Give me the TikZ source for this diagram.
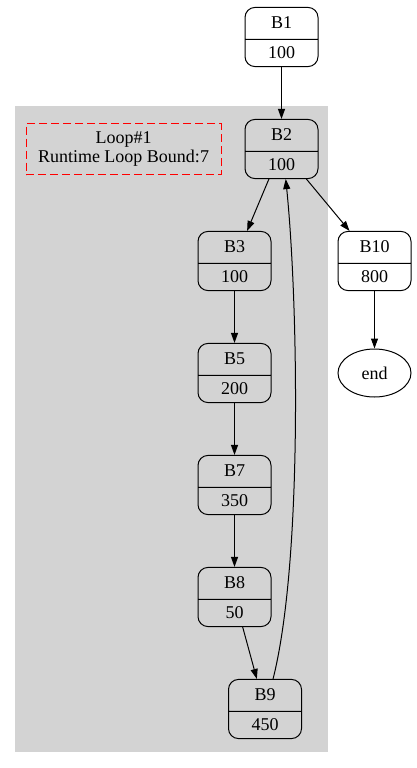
\documentclass[tikz,border=0pt]{standalone}
\usepackage{fontspec}
\setmainfont{Liberation Serif}
\usetikzlibrary{shapes.multipart,shapes.geometric,arrows.meta}
\definecolor{clustergray}{RGB}{211,211,211}
\begin{document}
\begin{tikzpicture}[x=1pt,y=-1pt,line width=1pt,
    every node/.style={font=\fontsize{18}{19.5}\selectfont},
    bb/.style={draw,fill=white,rectangle split,rectangle split parts=2,
      rounded corners=10pt,text width=53pt,align=center,inner xsep=10pt,
      inner ysep=7pt,text height=14pt,text depth=3pt},
    inbb/.style={bb,fill=clustergray},
    edge/.style={-{Triangle[length=10pt,width=7pt]}}]
  \useasboundingbox (0,0) rectangle (416,768);

  % loop cluster
  \fill[clustergray] (15,106) rectangle (328,752);
  \node[draw=red,dash pattern=on 8pt off 4pt,minimum width=195pt,minimum height=51pt,
        align=center] (loop) at (123.5,149) {Loop\#1\\Runtime Loop Bound:7};

  \node[bb] (b1) at (281.5,37) {B1\nodepart{two}100};
  \node[inbb] (b2) at (281.5,149) {B2\nodepart{two}100};
  \node[inbb] (b3) at (234.5,261) {B3\nodepart{two}100};
  \node[inbb] (b5) at (234.5,373) {B5\nodepart{two}200};
  \node[inbb] (b7) at (234.5,485) {B7\nodepart{two}350};
  \node[inbb] (b8) at (234.5,597) {B8\nodepart{two}50};
  \node[inbb] (b9) at (265,709) {B9\nodepart{two}450};
  \node[bb] (b10) at (374.5,261) {B10\nodepart{two}800};
  \node[draw,ellipse,minimum width=73pt,minimum height=48pt,inner sep=0pt] (end) at (374.5,373) {end};

  \draw[edge] (b1) -- (b2);
  \draw[edge] (b2) -- (b3);
  \draw[edge] (b2) -- (b10);
  \draw[edge] (b3) -- (b5);
  \draw[edge] (b5) -- (b7);
  \draw[edge] (b7) -- (b8);
  \draw[edge] (b8) -- (b9);
  \draw[edge] (b10) -- (end);
  \draw[edge] (b9.75) .. controls (303,560) and (298,300) .. (b2.-82);
\end{tikzpicture}
\end{document}
